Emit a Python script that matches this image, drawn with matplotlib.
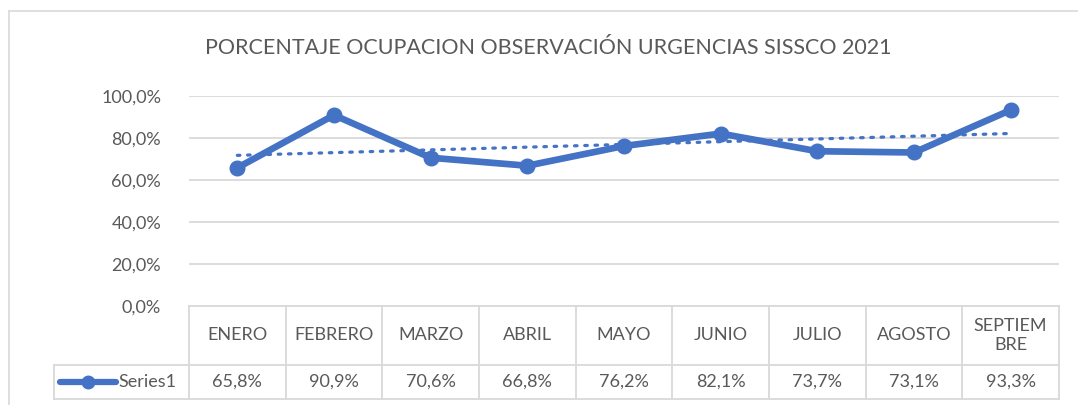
import numpy as np
import matplotlib
matplotlib.use("Agg")
from matplotlib import pyplot as plt
from matplotlib.lines import Line2D

plt.rcParams['font.family'] = ['Lato', 'DejaVu Sans']

months = ["ENERO", "FEBRERO", "MARZO", "ABRIL", "MAYO", "JUNIO", "JULIO", "AGOSTO", "SEPTIEM\nBRE"]
values = [65.8, 90.9, 70.6, 66.8, 76.2, 82.1, 73.7, 73.1, 93.3]
y_ticks = [0, 20, 40, 60, 80, 100]
series_name = "Series1"
title = "PORCENTAJE OCUPACION OBSERVACIÓN URGENCIAS SISSCO 2021"

W, H = 1078, 405
blue = "#4472C4"
grey_text = "#595959"
grid_col = "#D9D9D9"

fig = plt.figure(figsize=(W / 100, H / 100), dpi=100)

def fx(px):
    return px / W

def fy(py):
    return 1 - py / H

# chart border (left + top only visible)
fig.add_artist(Line2D([fx(9), fx(9)], [fy(11), 0], color=grid_col, lw=1.2))
fig.add_artist(Line2D([fx(9), 1], [fy(11), fy(11)], color=grid_col, lw=1.2))

# main plot area
left, right = 189, 1059
top, bottom = 96, 306
ax = fig.add_axes([fx(left), fy(bottom), fx(right - left), (bottom - top) / H])
x = np.arange(len(values))
ax.set_xlim(-0.5, len(values) - 0.5)
ax.set_ylim(0, 100)
ax.set_yticks(y_ticks)
ax.set_yticklabels([f"{t:.1f}%".replace(".", ",") for t in y_ticks], color=grey_text, fontsize=13)
ax.tick_params(axis='y', length=0, pad=20)
ax.set_xticks([])
for s in ax.spines.values():
    s.set_visible(False)
ax.grid(axis='y', color=grid_col, lw=1.3)
ax.set_axisbelow(True)

# linear trend
k, b = np.polyfit(x, values, 1)
ax.plot(x, k * x + b, color=blue, lw=2.3, linestyle=(0, (0.8, 2.4)), dash_capstyle='round', zorder=2)
ax.plot(x, values, color=blue, lw=4.8, marker='o', markersize=10.5, zorder=3, clip_on=False)

fig.text(fx(548), fy(48), title, ha='center', va='center', fontsize=15.5, color=grey_text)

# data table
tab = fig.add_axes([fx(left), fy(399), fx(right - left), (399 - bottom) / H])
tab.set_xlim(-0.5, len(values) - 0.5)
tab.set_ylim(93, 0)
tab.axis('off')
col_w = (right - left) / len(values)
leg_x = -0.5 - (left - 54) / col_w
lc = dict(color=grid_col, lw=1.3, clip_on=False)
tab.plot([-0.5, len(values) - 0.5], [0, 0], **lc)
tab.plot([leg_x, len(values) - 0.5], [59, 59], **lc)
tab.plot([leg_x, len(values) - 0.5], [93, 93], **lc)
tab.plot([leg_x, leg_x], [59, 93], **lc)
for i in range(len(values) + 1):
    tab.plot([i - 0.5, i - 0.5], [0, 93], **lc)
for i, (m, v) in enumerate(zip(months, values)):
    tab.text(i, 29.5, m, ha='center', va='center', fontsize=13, color=grey_text, linespacing=1.3)
    tab.text(i, 76, f"{v:.1f}%".replace(".", ","), ha='center', va='center', fontsize=13, color=grey_text)
lx0 = leg_x + 6 / col_w
lx1 = leg_x + 62 / col_w
tab.plot([lx0, lx1], [76, 76], color=blue, lw=4.5, solid_capstyle='round', clip_on=False)
tab.plot([(lx0 + lx1) / 2], [76], marker='o', color=blue, markersize=9, clip_on=False)
tab.text(lx1 + 2 / col_w, 76, series_name, ha='left', va='center', fontsize=13, color=grey_text)

fig.savefig("out.png", dpi=100)
